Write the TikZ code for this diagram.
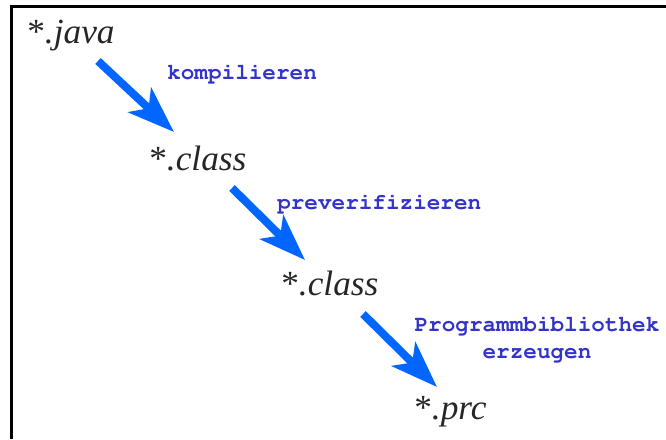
\documentclass[tikz,border=0pt]{standalone}
\usepackage[T1]{fontenc}
\usepackage{fontspec}
\setmainfont{Liberation Serif}
\newcommand{\courierbold}{\fontencoding{T1}\fontfamily{pcr}\fontseries{b}\selectfont}
\usetikzlibrary{arrows.meta}
\definecolor{flowblue}{RGB}{0,102,255}
\definecolor{labelblue}{RGB}{51,51,204}
\tikzset{
  filename/.style={anchor=base west, inner sep=0pt, font=\fontsize{26.5pt}{30pt}\selectfont, text=black!85},
  steplabel/.style={inner sep=0pt, font=\courierbold\fontsize{17pt}{20pt}\selectfont, text=labelblue},
  flow/.style={draw=flowblue, line width=6pt,
    -{Stealth[length=35pt, width=25pt, inset=9pt, fill=flowblue]}},
  frame/.style={line width=2.25pt}
}
\begin{document}
\begin{tikzpicture}[x=0.75pt, y=-0.75pt]
  \useasboundingbox (0,0) rectangle (666,439);
  % frame edges
  \draw[frame] (11.5,439) |- (666,6.5);

  % file types in the build chain
  \node[filename] (java)   at (27,43)   {*\textit{.java}};
  \node[filename] (class1) at (149,170) {*\textit{.class}};
  \node[filename] (class2) at (281,295) {*\textit{.class}};
  \node[filename] (prc)    at (414,419) {*\textit{.prc}};

  % processing steps
  \node[steplabel, anchor=base west] (compile) at (167,79)  {kompilieren};
  \node[steplabel, anchor=base west] (preverify) at (277,209) {preverifizieren};
  \node[steplabel, align=center, anchor=center] (library) at (537,339)
    {Programmbibliothek\\erzeugen};

  % arrow end points between the file types
  \coordinate (s1) at (98,61);   \coordinate (e1) at (174,132);
  \coordinate (s2) at (232,188); \coordinate (e2) at (305,260);
  \coordinate (s3) at (363,314); \coordinate (e3) at (437,387);

  \draw[flow] (s1) -- (e1);
  \draw[flow] (s2) -- (e2);
  \draw[flow] (s3) -- (e3);
\end{tikzpicture}
\end{document}
